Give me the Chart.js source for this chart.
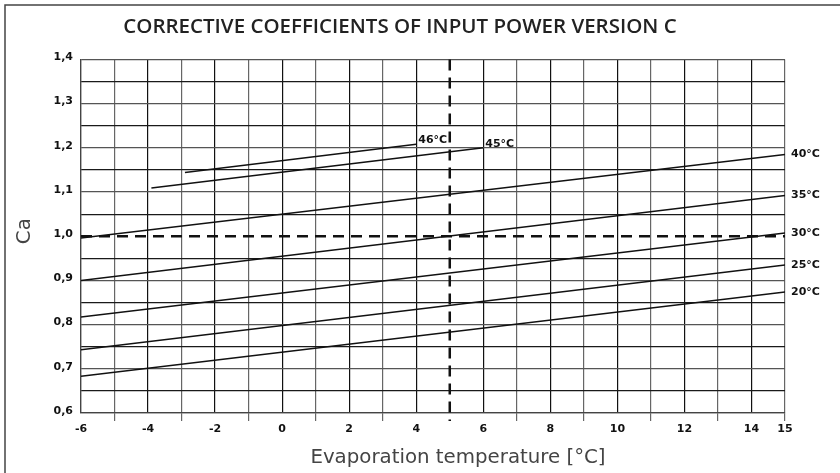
<!DOCTYPE html>
<html lang="en">
<head>
<meta charset="utf-8">
<title>Corrective coefficients of input power version C</title>
<script src="https://cdn.jsdelivr.net/npm/chart.js@4/dist/chart.umd.min.js"></script>
<style>
    html, body { margin: 0; padding: 0; background: #fff; }
    #chart { display: block; }
</style>
</head>
<body>
<canvas id="chart" width="840" height="473"></canvas>
<script>
// Condensing temperature curves (start and end of each straight line)
const condTemps = ['20°C', '25°C', '30°C', '35°C', '40°C', '45°C', '46°C'];
const evapStart = [-6, -6, -6, -6, -6, -3.9, -2.9];
const evapEnd = [15, 15, 15, 15, 15, 6, 4];
const caStart = [0.683, 0.743, 0.817, 0.900, 0.996, 1.109, 1.144];
const caEnd = [0.874, 0.935, 1.007, 1.092, 1.185, 1.200, 1.208];

// Tick labels
const evapTicks = [-6, -4, -2, 0, 2, 4, 6, 8, 10, 12, 14, 15];
const caTicks = [0.6, 0.7, 0.8, 0.9, 1.0, 1.1, 1.2, 1.3, 1.4];

// Axis titles
const xTitle = 'Evaporation temperature [°C]';
const yTitle = 'Ca';

// Nominal point (dashed lines)
const refEvap = 5;
const refCa = 1.0;

const LABEL_FONT = 'bold 11px "DejaVu Sans", sans-serif';
const AXIS_TITLE_FONT = '19.8px "DejaVu Sans", sans-serif';

function isCaLabel(v) {
    return caTicks.some(t => Math.abs(t - v) < 1e-6);
}

// Datasets built from the arrays
const datasets = condTemps.map((name, i) => ({
    label: name,
    data: [
        { x: evapStart[i], y: caStart[i] },
        { x: evapEnd[i], y: caEnd[i] }
    ],
    borderColor: '#111',
    borderWidth: 1.5,
    pointRadius: 0,
    tension: 0,
    fill: false
}));

// Plugin for the frame, the dashed lines, axis titles and curve labels
const extrasPlugin = {
    id: 'extras',
    beforeDraw(chart) {
        const ctx = chart.ctx;
        ctx.save();
        ctx.strokeStyle = '#444';
        ctx.lineWidth = 1.5;
        ctx.beginPath();
        ctx.moveTo(5, chart.height);
        ctx.lineTo(5, 5);
        ctx.lineTo(chart.width, 5);
        ctx.stroke();
        ctx.restore();
    },
    afterDatasetsDraw(chart) {
        const ctx = chart.ctx;
        const xs = chart.scales.x;
        const ys = chart.scales.y;
        const area = chart.chartArea;

        ctx.save();
        ctx.strokeStyle = '#111';
        ctx.lineWidth = 2.5;
        ctx.setLineDash([11, 7]);
        // horizontal line Ca = 1.0
        const py = ys.getPixelForValue(refCa);
        ctx.beginPath();
        ctx.moveTo(area.left, py);
        ctx.lineTo(area.right, py);
        ctx.stroke();
        // vertical line at evaporation 5 °C
        const px = xs.getPixelForValue(refEvap);
        ctx.beginPath();
        ctx.moveTo(px, area.top);
        ctx.lineTo(px, area.bottom + xs.options.grid.tickLength);
        ctx.stroke();
        ctx.restore();

        // labels at the end of each curve
        ctx.save();
        ctx.font = LABEL_FONT;
        ctx.fillStyle = '#111';
        ctx.textAlign = 'left';
        condTemps.forEach((name, i) => {
            const ex = xs.getPixelForValue(evapEnd[i]);
            const ey = ys.getPixelForValue(caEnd[i]);
            if (evapEnd[i] >= xs.max) {
                ctx.textBaseline = 'middle';
                ctx.fillText(name, ex + 6, ey);
            } else {
                ctx.textBaseline = 'alphabetic';
                ctx.fillText(name, ex + 2, ey - 1);
            }
        });
        ctx.restore();

        // axis titles (the original is not centred on the plot)
        ctx.save();
        ctx.font = AXIS_TITLE_FONT;
        ctx.fillStyle = '#444';
        ctx.textAlign = 'center';
        ctx.textBaseline = 'middle';
        ctx.fillText(xTitle, (area.left + area.right) / 2 + 25, xs.bottom - 10);
        ctx.translate(ys.left + 10, (area.top + area.bottom) / 2 - 5);
        ctx.rotate(-Math.PI / 2);
        ctx.fillText(yTitle, 0, 0);
        ctx.restore();
    }
};

const chart = new Chart(document.getElementById('chart'), {
    type: 'line',
    data: { datasets: datasets },
    options: {
        responsive: false,
        animation: false,
        layout: { padding: { left: 15, right: 55, top: 0, bottom: 5 } },
        plugins: {
            legend: { display: false },
            tooltip: { enabled: false },
            title: {
                display: true,
                text: 'CORRECTIVE COEFFICIENTS OF INPUT POWER VERSION C',
                color: '#222',
                font: { family: '"Open Sans", sans-serif', size: 20.5, weight: 600, lineHeight: 1.2 },
                padding: { top: 14.5, bottom: 20.3 }
            }
        },
        scales: {
            x: {
                type: 'linear',
                min: -6,
                max: 15,
                afterBuildTicks(scale) {
                    const ticks = [];
                    for (let v = scale.min; v <= scale.max; v++) ticks.push({ value: v });
                    scale.ticks = ticks;
                },
                afterFit(scale) { scale.height = 55; },
                ticks: {
                    autoSkip: false,
                    maxRotation: 0,
                    padding: 2,
                    color: '#111',
                    font: { family: '"DejaVu Sans", sans-serif', size: 11, weight: 'bold' },
                    callback: v => evapTicks.includes(v) ? String(v) : ''
                },
                grid: {
                    lineWidth: 1.2,
                    tickLength: 8,
                    color: c => {
                        const v = c.tick ? c.tick.value : 0;
                        if (v === refEvap) return 'rgba(0,0,0,0)';
                        return Math.abs(v % 2) === 1 ? '#666' : '#111';
                    },
                    tickColor: c => {
                        const v = c.tick ? c.tick.value : 0;
                        if (v === refEvap) return 'rgba(0,0,0,0)';
                        return Math.abs(v % 2) === 1 ? '#666' : 'rgba(0,0,0,0)';
                    }
                },
                border: { display: true, color: '#444', width: 1.2 },
                title: { display: false }
            },
            y: {
                min: 0.6,
                max: 1.4,
                afterFit(scale) { scale.width = 66; },
                ticks: {
                    stepSize: 0.05,
                    autoSkip: false,
                    padding: 8,
                    labelOffset: -2,
                    color: '#111',
                    font: { family: '"DejaVu Sans", sans-serif', size: 11, weight: 'bold' },
                    callback: v => isCaLabel(v) ? v.toFixed(1).replace('.', ',') : ''
                },
                grid: {
                    lineWidth: 1.2,
                    drawTicks: false,
                    color: c => {
                        const v = c.tick ? c.tick.value : 0;
                        if (Math.abs(v - refCa) < 1e-6) return 'rgba(0,0,0,0)';
                        return isCaLabel(v) ? '#555' : '#1a1a1a';
                    }
                },
                border: { display: true, color: '#444', width: 1.2 },
                title: { display: false }
            }
        }
    },
    plugins: [extrasPlugin]
});
</script>
</body>
</html>
